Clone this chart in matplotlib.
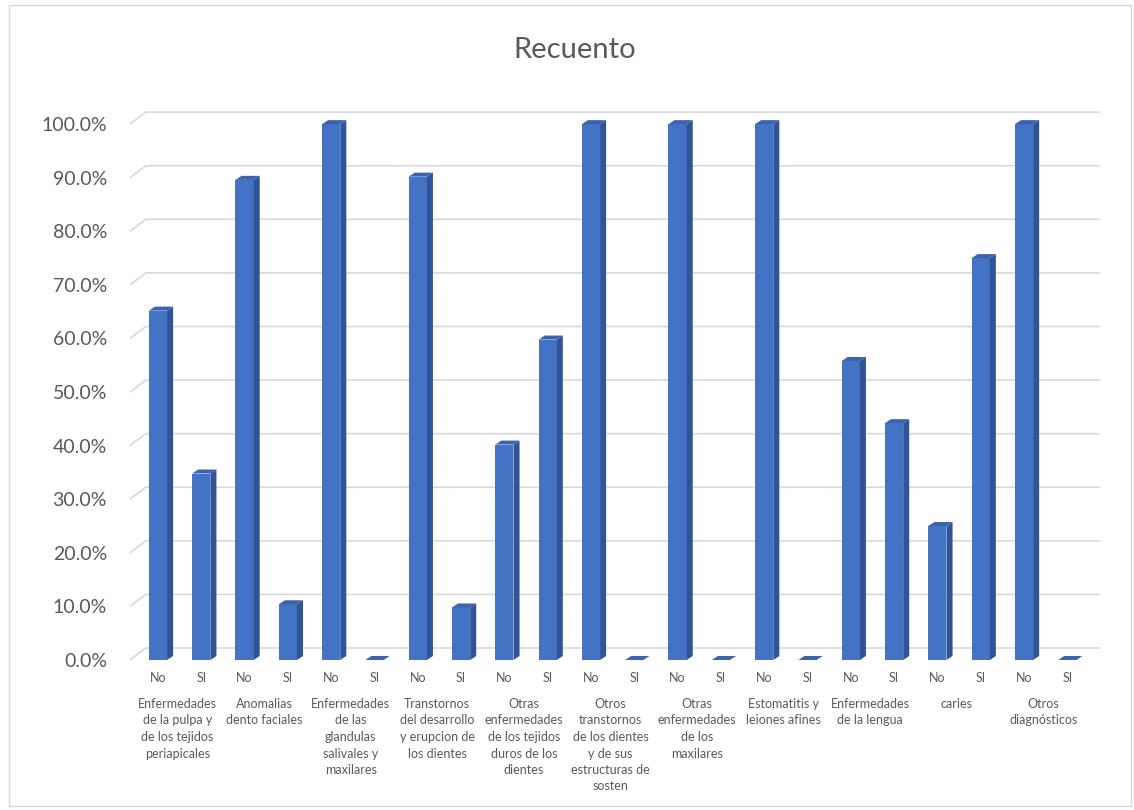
import matplotlib
matplotlib.use('Agg')
import matplotlib.pyplot as plt
from matplotlib.patches import Polygon, Rectangle
import matplotlib.transforms as mtransforms

plt.rcParams['font.family'] = ['Lato', 'DejaVu Sans']

# Datos
categorias = [
    'Enfermedades\nde la pulpa y\nde los tejidos\nperiapicales',
    'Anomalias\ndento faciales',
    'Enfermedades\nde las\nglandulas\nsalivales y\nmaxilares',
    'Transtornos\ndel desarrollo\ny erupcion de\nlos dientes',
    'Otras\nenfermedades\nde los tejidos\nduros de los\ndientes',
    'Otros\ntranstornos\nde los dientes\ny de sus\nestructuras de\nsosten',
    'Otras\nenfermedades\nde los\nmaxilares',
    'Estomatitis y\nleiones afines',
    'Enfermedades\nde la lengua',
    'caries',
    'Otros\ndiagnósticos',
]
respuestas = ['No', 'SI']
pct_no = [65.2, 89.6, 100.0, 90.2, 40.2, 100.0, 100.0, 100.0, 55.8, 25.0, 100.0]
pct_si = [34.8, 10.4, 0.0, 9.8, 59.8, 0.0, 0.0, 0.0, 44.2, 75.0, 0.0]

valores = []
etiquetas = []
for n, s in zip(pct_no, pct_si):
    valores += [n, s]
    etiquetas += respuestas

gris = '#595959'
frente = '#4472C4'
lado = '#2F5597'
techo = '#3B63AE'

fig = plt.figure(figsize=(11.34, 8.1), dpi=100)
fig.patches.append(Rectangle((0.008, 0.005), 0.989, 0.989, transform=fig.transFigure,
                             fill=False, edgecolor='#D9D9D9', linewidth=1))
ax = fig.add_axes([0.1102, 0.1728, 0.8642, 0.7037])
ax.set_xlim(-0.762, 21.87)
ax.set_ylim(-1.87, 104.5)

# Cuadricula en perspectiva
gx0, gdx, gdy = -0.65, 0.37, 2.24
for v in range(0, 101, 10):
    ax.plot([gx0, gx0 + gdx, 21.75], [v, v + gdy, v + gdy], color='#D9D9D9',
            linewidth=1.2, zorder=1, solid_capstyle='butt')

# Barras 3D
x = list(range(len(valores)))
w, dx, dy = 0.42, 0.14, 0.75
ax.bar(x, valores, width=w, color=frente, zorder=3, linewidth=0)
for xi, v in zip(x, valores):
    r = xi + w / 2
    l = xi - w / 2
    ax.add_patch(Polygon([(r, 0), (r + dx, dy), (r + dx, v + dy), (r, v)],
                         closed=True, facecolor=lado, edgecolor='none', zorder=3))
    ax.add_patch(Polygon([(l, v), (r, v), (r + dx, v + dy), (l + dx, v + dy)],
                         closed=True, facecolor=techo, edgecolor='none', zorder=3))

# Ejes
ax.set_yticks(range(0, 101, 10))
ax.set_yticklabels([f'{v:.1f}%' for v in range(0, 101, 10)], fontsize=14, color=gris)
ax.tick_params(axis='y', length=0, pad=13)
ax.set_xticks([])
for s in ax.spines.values():
    s.set_visible(False)

trans = mtransforms.blended_transform_factory(ax.transData, fig.transFigure)
for xi, et in zip(x, etiquetas):
    ax.text(xi, (810 - 678) / 810, et, transform=trans, ha='center', va='center',
            fontsize=9, color=gris, clip_on=False)
for i, cat in enumerate(categorias):
    ax.text(2 * i + 0.45, (810 - 698) / 810, cat, transform=trans, ha='center', va='top',
            fontsize=9, color=gris, linespacing=1.45, clip_on=False)

fig.text(0.507, (810 - 50) / 810, 'Recuento', ha='center', va='center', fontsize=21, color=gris)

fig.savefig('out.png', dpi=100, facecolor='white')
